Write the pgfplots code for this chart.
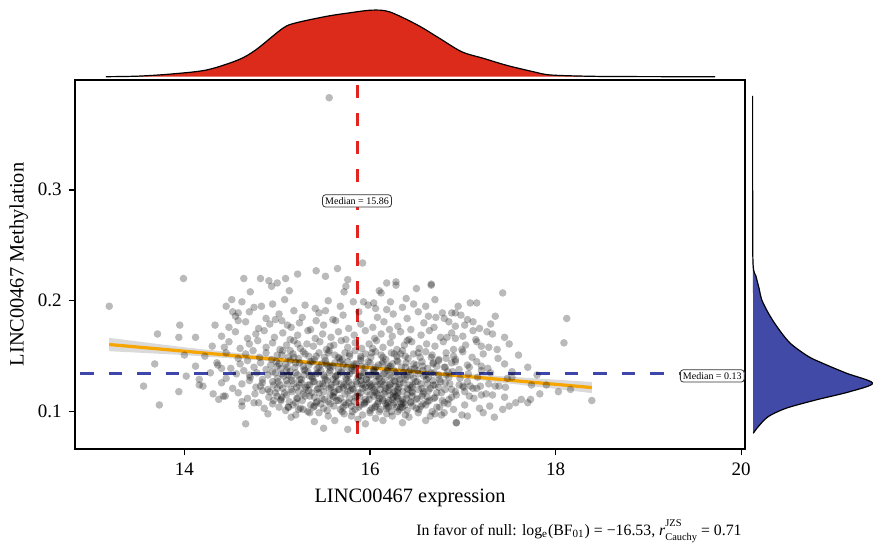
\documentclass[border=0pt]{standalone}
\usepackage{fontspec}
\setmainfont{Liberation Serif}
\usepackage{pgfplots}
\pgfplotsset{compat=1.18}

\definecolor{denred}{RGB}{220,43,27}
\definecolor{medred}{RGB}{226,35,30}
\definecolor{denblue}{RGB}{66,74,168}
\definecolor{medblue}{RGB}{62,70,170}
\definecolor{fitorange}{RGB}{247,165,0}
\definecolor{bandgray}{RGB}{218,218,218}

\tikzset{medbox/.style={draw=black!80, fill=white, rounded corners=1.5pt,
  inner sep=1.3pt, line width=0.4pt, font=\fontsize{5}{6}\selectfont}}
\newcommand\scr[1]{{\fontsize{5.2}{5.2}\selectfont #1}}

\begin{document}
\begin{tikzpicture}
\useasboundingbox (-37.5pt,-48.5pt) rectangle (399pt,224.5pt);

% main scatter
\begin{axis}[
  name=main, at={(0,0)}, anchor=south west, scale only axis,
  width=335pt, height=184.5pt,
  xmin=12.821, xmax=20.041, ymin=0.0663, ymax=0.399,
  xtick={14,16,18,20}, ytick={0.1,0.2,0.3},
  xtick pos=lower, ytick pos=left,
  tick align=outside, major tick length=3.2pt,
  tick style={black, line width=0.7pt},
  axis line style={line width=0.7pt},
  xlabel={LINC00467 expression}, ylabel={LINC00467 Methylation},
  label style={font=\fontsize{10.2}{12}\selectfont},
  ylabel style={yshift=-2pt},
  tick label style={font=\fontsize{9.5}{11}\selectfont},
  /pgf/number format/assume math mode=true,
]
% confidence band
\addplot[fill=bandgray, draw=none] coordinates {
 (13.19,0.1665) (14,0.1580) (15,0.1491) (16,0.1411) (17,0.1342) (18.39,0.1267)
 (18.39,0.1167) (17,0.1302) (16,0.1381) (15,0.1451) (14,0.1510) (13.19,0.1545)} -- cycle;

% points
\addplot[only marks, mark=*, mark size=1.9pt, black,
  mark options={draw opacity=0, fill=black, fill opacity=0.27}] coordinates {
 (13.19,0.195)(13.99,0.220)(13.71,0.170)(13.95,0.178)(13.94,0.167)(14.12,0.167)
 (14.00,0.151)(13.68,0.143)(13.56,0.123)(13.73,0.106)(13.94,0.118)(14.16,0.129)
 (14.16,0.124)(14.33,0.178)(14.43,0.158)(14.36,0.142)(14.31,0.116)(14.37,0.111)
 (14.44,0.114)(14.66,0.089)(14.51,0.201)(14.45,0.195)(14.52,0.190)(14.58,0.189)
 (14.58,0.182)(14.64,0.220)(14.82,0.220)(14.91,0.218)(15.00,0.216)(14.94,0.213)
 (15.09,0.220)(15.22,0.224)(15.42,0.227)(15.52,0.222)(15.65,0.229)(15.92,0.234)
 (14.71,0.208)(14.83,0.195)(15.13,0.209)(15.74,0.213)(15.76,0.219)(15.72,0.208)
 (15.82,0.199)(15.93,0.199)(16.10,0.209)(16.12,0.207)(16.18,0.216)(16.28,0.217)
 (16.28,0.214)(16.50,0.211)(16.66,0.215)(16.04,0.198)(16.06,0.193)(16.39,0.202)
 (16.60,0.195)(16.18,0.192)(16.78,0.189)(16.88,0.189)(16.92,0.189)
 (15.50,0.085)(15.76,0.084)(15.62,0.092)(16.14,0.092)(15.87,0.093)(15.12,0.104)
 (15.23,0.102)(16.93,0.090)(16.77,0.097)(15.72,0.098)(14.80,0.108)(14.62,0.109)
 (16.66,0.214)(17.43,0.207)(17.08,0.198)(18.12,0.184)(18.09,0.162)(17.11,0.181)
 (17.11,0.173)(17.26,0.172)(17.20,0.159)(17.37,0.156)(16.80,0.184)(16.71,0.185)
 (16.92,0.177)(16.83,0.167)(16.92,0.166)(16.99,0.156)(16.82,0.148)(16.92,0.145)
 (17.07,0.140)(17.20,0.141)(17.20,0.137)(17.53,0.136)(17.53,0.131)(17.39,0.123)
 (17.74,0.124)(17.83,0.116)(18.03,0.118)(18.16,0.120)(18.39,0.110)(17.63,0.111)
 (17.70,0.108)(17.57,0.108)(17.73,0.111)(17.29,0.105)(17.43,0.102)(17.34,0.095)
 (16.99,0.097)(16.93,0.090)(17.32,0.115)(17.20,0.115)(17.07,0.114)(17.11,0.121)
 (17.01,0.122)(17.35,0.123)(17.19,0.123)(17.08,0.123)
 (15.56,0.383)
 (14.62,0.199)(14.75,0.194)(14.95,0.197)(15.08,0.201)(15.30,0.196)(15.41,0.193)
 (15.55,0.200)(15.68,0.195)(15.98,0.196)(16.22,0.199)(16.35,0.194)(16.47,0.197)
 (16.70,0.201)(16.95,0.195)(17.15,0.198)
 (14.55,0.186)(14.70,0.190)(14.88,0.184)(15.02,0.188)(15.18,0.191)(15.27,0.185)
 (15.45,0.189)(15.60,0.183)(15.71,0.187)(15.88,0.190)(16.08,0.185)(16.25,0.188)
 (16.40,0.184)(16.52,0.190)(16.63,0.186)(16.98,0.187)(17.05,0.183)(17.35,0.186)
 (14.98,0.183)(15.52,0.191)
 (14.48,0.176)(14.66,0.181)(14.80,0.175)(14.92,0.179)(15.05,0.182)(15.15,0.176)
 (15.24,0.180)(15.36,0.174)(15.50,0.178)(15.63,0.182)(15.77,0.175)(15.90,0.179)
 (16.03,0.176)(16.15,0.181)(16.30,0.177)(16.44,0.174)(16.58,0.180)(16.69,0.176)
 (16.85,0.181)(17.02,0.178)(17.18,0.175)(17.30,0.179)(15.42,0.182)(16.21,0.174)
 (15.11,0.178)
 (14.40,0.168)(14.55,0.172)(14.68,0.166)(14.77,0.170)(14.86,0.173)(14.97,0.167)
 (15.06,0.171)(15.14,0.165)(15.22,0.169)(15.33,0.173)(15.41,0.166)(15.49,0.170)
 (15.58,0.167)(15.66,0.172)(15.74,0.165)(15.83,0.169)(15.95,0.173)(16.05,0.166)
 (16.12,0.170)(16.24,0.168)(16.33,0.172)(16.42,0.165)(16.55,0.169)(16.64,0.173)
 (16.76,0.167)(16.88,0.171)(17.00,0.168)(17.14,0.165)(17.32,0.170)(17.45,0.167)
 (14.30,0.159)(14.48,0.163)(14.60,0.157)(14.70,0.161)(14.79,0.164)(14.88,0.158)
 (14.95,0.162)(15.03,0.156)(15.10,0.160)(15.18,0.164)(15.25,0.157)(15.32,0.161)
 (15.39,0.159)(15.46,0.163)(15.53,0.156)(15.61,0.160)(15.69,0.164)(15.76,0.158)
 (15.84,0.162)(15.91,0.157)(15.99,0.161)(16.07,0.164)(16.14,0.158)(16.22,0.162)
 (16.29,0.156)(16.37,0.160)(16.45,0.163)(16.53,0.157)(16.61,0.161)(16.70,0.159)
 (16.79,0.163)(16.90,0.156)(17.03,0.160)(17.15,0.163)(17.28,0.158)(17.50,0.161)
 (15.57,0.159)(16.03,0.157)(16.40,0.164)(15.22,0.161)
 (14.22,0.150)(14.45,0.153)(14.58,0.148)(14.66,0.152)(14.74,0.155)(14.81,0.149)
 (14.88,0.153)(14.94,0.147)(15.00,0.151)(15.06,0.155)(15.12,0.149)(15.17,0.152)
 (15.23,0.148)(15.28,0.154)(15.34,0.150)(15.40,0.147)(15.45,0.153)(15.51,0.149)
 (15.56,0.155)(15.62,0.151)(15.67,0.148)(15.73,0.153)(15.78,0.150)(15.84,0.155)
 (15.90,0.148)(15.95,0.152)(16.01,0.149)(16.06,0.154)(16.12,0.151)(16.17,0.147)
 (16.23,0.153)(16.29,0.150)(16.35,0.155)(16.41,0.148)(16.47,0.152)(16.54,0.149)
 (16.60,0.154)(16.67,0.151)(16.74,0.147)(16.82,0.153)(16.90,0.150)(17.00,0.154)
 (17.10,0.149)(17.22,0.152)(17.38,0.148)(17.60,0.151)(15.14,0.155)(15.70,0.147)
 (16.33,0.152)(16.92,0.147)
 (14.12,0.141)(14.35,0.144)(14.50,0.139)(14.60,0.143)(14.68,0.146)(14.75,0.140)
 (14.82,0.144)(14.88,0.138)(14.93,0.142)(14.99,0.145)(15.04,0.139)(15.09,0.143)
 (15.14,0.146)(15.19,0.140)(15.24,0.144)(15.29,0.138)(15.34,0.142)(15.38,0.145)
 (15.43,0.139)(15.48,0.143)(15.52,0.146)(15.57,0.140)(15.62,0.144)(15.66,0.138)
 (15.71,0.142)(15.76,0.145)(15.80,0.139)(15.85,0.143)(15.90,0.146)(15.95,0.140)
 (16.00,0.144)(16.04,0.138)(16.09,0.142)(16.14,0.145)(16.19,0.139)(16.24,0.143)
 (16.29,0.146)(16.34,0.140)(16.39,0.144)(16.44,0.138)(16.50,0.142)(16.56,0.145)
 (16.62,0.139)(16.68,0.143)(16.74,0.146)(16.81,0.140)(16.88,0.144)(16.96,0.138)
 (17.05,0.142)(17.15,0.145)(17.27,0.139)(17.45,0.143)(17.70,0.140)(15.00,0.141)
 (15.55,0.141)(16.20,0.141)(16.72,0.141)(14.40,0.139)(15.82,0.141)(16.48,0.139)
 (14.02,0.132)(14.28,0.135)(14.45,0.130)(14.56,0.134)(14.64,0.137)(14.71,0.131)
 (14.78,0.135)(14.84,0.129)(14.90,0.133)(14.95,0.136)(15.00,0.130)(15.05,0.134)
 (15.10,0.137)(15.15,0.131)(15.20,0.135)(15.24,0.129)(15.29,0.133)(15.33,0.136)
 (15.38,0.130)(15.42,0.134)(15.47,0.137)(15.51,0.131)(15.56,0.135)(15.60,0.129)
 (15.65,0.133)(15.69,0.136)(15.74,0.130)(15.78,0.134)(15.83,0.137)(15.87,0.131)
 (15.92,0.135)(15.96,0.129)(16.01,0.133)(16.05,0.136)(16.10,0.130)(16.14,0.134)
 (16.19,0.137)(16.23,0.131)(16.28,0.135)(16.32,0.129)(16.37,0.133)(16.42,0.136)
 (16.47,0.130)(16.52,0.134)(16.57,0.137)(16.63,0.131)(16.69,0.135)(16.75,0.129)
 (16.82,0.133)(16.89,0.136)(16.97,0.130)(17.06,0.134)(17.16,0.131)(17.30,0.135)
 (17.48,0.130)(17.80,0.133)(15.12,0.133)(15.63,0.132)(16.07,0.132)(16.40,0.132)
 (16.85,0.131)(15.35,0.132)(15.90,0.132)(14.70,0.133)(16.60,0.133)
 (14.20,0.123)(14.40,0.126)(14.52,0.121)(14.62,0.125)(14.70,0.128)(14.77,0.122)
 (14.84,0.126)(14.90,0.120)(14.96,0.124)(15.01,0.127)(15.06,0.121)(15.11,0.125)
 (15.16,0.128)(15.21,0.122)(15.26,0.126)(15.30,0.120)(15.35,0.124)(15.40,0.127)
 (15.44,0.121)(15.49,0.125)(15.54,0.128)(15.58,0.122)(15.63,0.126)(15.67,0.120)
 (15.72,0.124)(15.77,0.127)(15.81,0.121)(15.86,0.125)(15.90,0.128)(15.95,0.122)
 (15.99,0.126)(16.04,0.120)(16.08,0.124)(16.13,0.127)(16.17,0.121)(16.22,0.125)
 (16.26,0.128)(16.31,0.122)(16.36,0.126)(16.41,0.120)(16.46,0.124)(16.51,0.127)
 (16.56,0.121)(16.62,0.125)(16.68,0.128)(16.74,0.122)(16.81,0.126)(16.88,0.120)
 (16.96,0.124)(17.05,0.127)(17.15,0.121)(17.28,0.125)(17.46,0.122)(17.90,0.124)
 (15.24,0.124)(15.75,0.123)(16.28,0.123)(16.70,0.124)(15.50,0.123)(16.00,0.123)
 (16.45,0.122)(14.82,0.123)(17.00,0.123)(15.93,0.124)(16.15,0.124)
 (14.42,0.114)(14.58,0.117)(14.68,0.112)(14.76,0.116)(14.84,0.119)(14.91,0.113)
 (14.98,0.117)(15.04,0.111)(15.10,0.115)(15.16,0.118)(15.22,0.112)(15.28,0.116)
 (15.34,0.119)(15.40,0.113)(15.45,0.117)(15.51,0.111)(15.57,0.115)(15.62,0.118)
 (15.68,0.112)(15.73,0.116)(15.79,0.119)(15.84,0.113)(15.90,0.117)(15.95,0.111)
 (16.00,0.115)(16.05,0.118)(16.10,0.112)(16.15,0.116)(16.20,0.119)(16.25,0.113)
 (16.30,0.117)(16.35,0.111)(16.40,0.115)(16.45,0.118)(16.51,0.112)(16.57,0.116)
 (16.63,0.119)(16.70,0.113)(16.77,0.117)(16.85,0.111)(16.93,0.115)(17.02,0.118)
 (17.12,0.112)(17.25,0.116)(17.45,0.113)(15.30,0.114)(15.86,0.114)(16.28,0.114)
 (16.62,0.113)(15.60,0.114)(16.08,0.115)(16.45,0.114)(15.00,0.114)
 (14.62,0.105)(14.75,0.108)(14.86,0.103)(14.95,0.107)(15.04,0.110)(15.12,0.104)
 (15.20,0.108)(15.28,0.102)(15.36,0.106)(15.43,0.109)(15.50,0.103)(15.57,0.107)
 (15.64,0.110)(15.71,0.104)(15.77,0.108)(15.84,0.102)(15.90,0.106)(15.96,0.109)
 (16.02,0.103)(16.08,0.107)(16.14,0.110)(16.20,0.104)(16.26,0.108)(16.32,0.102)
 (16.38,0.106)(16.44,0.109)(16.50,0.103)(16.57,0.107)(16.64,0.110)(16.72,0.104)
 (16.80,0.108)(16.90,0.102)(17.02,0.106)(17.18,0.103)(17.50,0.105)(16.18,0.105)
 (16.35,0.104)(16.05,0.104)(15.80,0.105)(16.55,0.105)(15.40,0.105)
 (14.90,0.098)(15.15,0.095)(15.35,0.099)(15.55,0.096)(15.70,0.100)(15.92,0.097)
 (16.06,0.094)(16.18,0.098)(16.30,0.100)(16.42,0.095)(16.52,0.099)(16.65,0.096)
 (16.80,0.099)(17.05,0.096)(17.22,0.099)(16.24,0.096)(16.10,0.100)
 (15.40,0.091)(16.35,0.090)(16.60,0.092)(15.95,0.089)
 (15.02,0.104)(15.09,0.101)(15.17,0.106)(15.25,0.103)(15.33,0.100)(15.39,0.104)
 (15.47,0.107)(15.54,0.101)(15.61,0.105)(15.68,0.102)(15.74,0.106)(15.81,0.100)
 (15.88,0.104)(15.94,0.107)(16.00,0.101)(16.06,0.105)(16.11,0.102)(16.17,0.107)
 (16.23,0.100)(16.29,0.104)(16.34,0.107)(16.40,0.101)(16.46,0.105)(16.53,0.102)
 (16.60,0.106)(16.67,0.100)(16.75,0.104)(16.84,0.107)
 (14.96,0.110)(15.05,0.113)(15.13,0.109)(15.21,0.112)(15.27,0.110)(15.35,0.114)
 (15.42,0.108)(15.48,0.112)(15.55,0.109)(15.61,0.113)(15.66,0.110)(15.72,0.108)
 (15.78,0.112)(15.83,0.109)(15.89,0.113)(15.94,0.108)(15.99,0.111)(16.04,0.114)
 (16.09,0.109)(16.13,0.112)(16.19,0.108)(16.24,0.111)(16.29,0.114)(16.33,0.109)
 (16.39,0.112)(16.44,0.108)(16.50,0.111)(16.56,0.114)(16.62,0.109)(16.69,0.112)
 (16.78,0.110)(16.88,0.113)
 (14.92,0.118)(15.00,0.121)(15.08,0.117)(15.15,0.120)(15.23,0.118)(15.31,0.122)
 (15.37,0.117)(15.43,0.120)(15.50,0.118)(15.56,0.121)(15.61,0.117)(15.66,0.120)
 (15.71,0.122)(15.76,0.118)(15.82,0.120)(15.87,0.117)(15.92,0.121)(15.97,0.118)
 (16.02,0.122)(16.07,0.117)(16.11,0.120)(16.16,0.118)(16.21,0.122)(16.25,0.117)
 (16.30,0.120)(16.35,0.118)(16.40,0.121)(16.46,0.117)(16.52,0.120)(16.58,0.118)
 (16.65,0.121)(16.72,0.117)(16.81,0.120)(16.92,0.118)
 (14.95,0.127)(15.03,0.124)(15.10,0.128)(15.18,0.125)(15.26,0.129)(15.33,0.124)
 (15.39,0.127)(15.46,0.125)(15.52,0.129)(15.58,0.124)(15.64,0.127)(15.69,0.125)
 (15.75,0.129)(15.80,0.124)(15.85,0.127)(15.91,0.125)(15.96,0.129)(16.01,0.124)
 (16.06,0.127)(16.11,0.125)(16.16,0.129)(16.21,0.124)(16.27,0.127)(16.32,0.125)
 (16.38,0.129)(16.43,0.124)(16.49,0.127)(16.55,0.125)(16.61,0.129)(16.68,0.124)
 (16.76,0.127)(16.86,0.125)
 (14.98,0.135)(15.07,0.132)(15.14,0.136)(15.22,0.133)(15.30,0.137)(15.37,0.132)
 (15.44,0.135)(15.50,0.133)(15.57,0.137)(15.63,0.132)(15.70,0.135)(15.76,0.133)
 (15.81,0.137)(15.88,0.132)(15.94,0.135)(15.99,0.133)(16.04,0.137)(16.09,0.132)
 (16.16,0.135)(16.21,0.133)(16.26,0.137)(16.31,0.132)(16.36,0.135)(16.44,0.133)
 (16.51,0.137)(16.58,0.132)(16.66,0.135)(16.74,0.133)(16.84,0.136)
 (15.02,0.143)(15.11,0.140)(15.20,0.144)(15.28,0.141)(15.36,0.145)(15.45,0.140)
 (15.53,0.143)(15.60,0.141)(15.68,0.145)(15.75,0.140)(15.83,0.143)(15.91,0.141)
 (15.98,0.145)(16.06,0.140)(16.13,0.143)(16.22,0.141)(16.30,0.145)(16.38,0.140)
 (16.47,0.143)(16.57,0.141)(16.68,0.144)(16.80,0.140)
 (15.05,0.151)(15.18,0.149)(15.30,0.152)(15.42,0.150)(15.55,0.153)(15.66,0.149)
 (15.78,0.152)(15.90,0.150)(16.02,0.153)(16.14,0.149)(16.26,0.152)(16.38,0.150)
 (16.52,0.153)(16.66,0.149)
 (15.20,0.097)(15.45,0.099)(15.80,0.096)(16.00,0.099)(16.38,0.097)(16.70,0.098)
 (16.20,0.110)(16.25,0.106)(16.30,0.112)(16.27,0.118)(16.33,0.104)(16.22,0.115)
 (16.36,0.108)(16.18,0.103)
};

% regression line
\addplot[fitorange, line width=1.6pt] coordinates {(13.19,0.1605) (18.39,0.1217)};

% medians
\addplot[medblue, line width=1.5pt, dash pattern=on 6.75pt off 7.5pt, dash phase=11.75pt]
  coordinates {(12.821,0.1345) (20.041,0.1345)};
\addplot[medred, line width=1.5pt, dash pattern=on 6.5pt off 7.5pt, dash phase=11.5pt]
  coordinates {(15.86,0.399) (15.86,0.0663)};

\node[medbox] at (axis cs:15.86,0.290) {Median = 15.86};
\node[medbox, anchor=west] at (axis cs:19.34,0.1322) {Median = 0.13};
\end{axis}

% top marginal density
\begin{axis}[
  at={(0,186pt)}, anchor=south west, scale only axis,
  width=335pt, height=34.5pt,
  xmin=12.821, xmax=20.041, ymin=-0.0045, ymax=1.022,
  axis lines=none, clip=false,
]
\addplot[fill=denred, draw=none, smooth, tension=0.5] coordinates {
 (13.155,0)(13.5,0.008)(13.86,0.04)(14.24,0.10)(14.58,0.25)(14.77,0.40)
 (15.06,0.72)(15.20,0.80)(15.54,0.90)(15.78,0.95)(16.02,0.99)(16.21,0.965)
 (16.51,0.77)(16.75,0.57)(16.99,0.37)(17.23,0.27)(17.47,0.17)(17.76,0.074)
 (17.95,0.025)(18.43,0.005)(19.0,0.001)(19.72,0)} -- cycle;
\addplot[black, line width=0.6pt, smooth, tension=0.5] coordinates {
 (13.155,0)(13.5,0.008)(13.86,0.04)(14.24,0.10)(14.58,0.25)(14.77,0.40)
 (15.06,0.72)(15.20,0.80)(15.54,0.90)(15.78,0.95)(16.02,0.99)(16.21,0.965)
 (16.51,0.77)(16.75,0.57)(16.99,0.37)(17.23,0.27)(17.47,0.17)(17.76,0.074)
 (17.95,0.025)(18.43,0.005)(19.0,0.001)(19.72,0)};
\end{axis}

% right marginal density
\begin{axis}[
  at={(337.5pt,0)}, anchor=south west, scale only axis,
  width=61.5pt, height=184.5pt,
  xmin=-0.022, xmax=1.003, ymin=0.0663, ymax=0.399,
  axis lines=none, clip=false,
]
\addplot[fill=denblue, draw=none, smooth, tension=0.5] coordinates {
 (0,0.3846)(0,0.30)(0.003,0.234)(0.028,0.222)(0.056,0.210)(0.075,0.201)
 (0.13,0.189)(0.20,0.177)(0.31,0.162)(0.46,0.150)(0.575,0.144)(0.78,0.1347)
 (1.0,0.1257)(0.81,0.118)(0.53,0.1106)(0.28,0.1031)(0.13,0.0955)(0.047,0.0865)
 (0.005,0.0805)} -- cycle;
\addplot[black, line width=0.6pt, smooth, tension=0.5] coordinates {
 (0,0.3846)(0,0.30)(0.003,0.234)(0.028,0.222)(0.056,0.210)(0.075,0.201)
 (0.13,0.189)(0.20,0.177)(0.31,0.162)(0.46,0.150)(0.575,0.144)(0.78,0.1347)
 (1.0,0.1257)(0.81,0.118)(0.53,0.1106)(0.28,0.1031)(0.13,0.0955)(0.047,0.0865)
 (0.005,0.0805)};
\end{axis}

\node[anchor=east, font=\fontsize{7.9}{9}\selectfont, inner sep=0pt] at (333.5pt,-41pt)
 {In favor of null: log\textsubscript{e}(BF\textsubscript{01}) = −16.53,
  \textit{r}\rlap{\raisebox{1.25ex}{\scr{JZS}}}\raisebox{-0.7ex}{\scr{Cauchy}} = 0.71};
\end{tikzpicture}
\end{document}
